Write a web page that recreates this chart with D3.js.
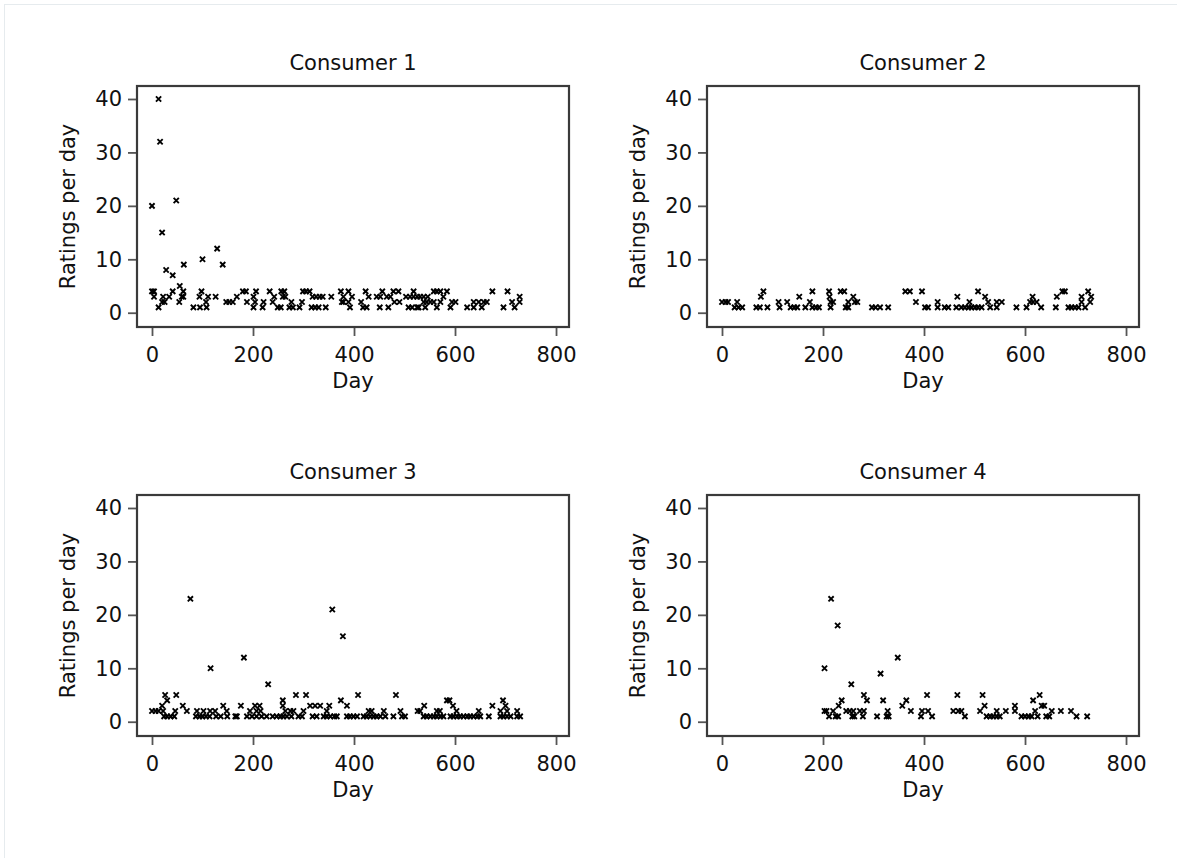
<!DOCTYPE html>
<html>
<head>
<meta charset="utf-8">
<script src="https://cdn.jsdelivr.net/npm/d3@7"></script>
<style>
  body { margin: 0; background: #fff; }
  text { font-family: "DejaVu Sans", sans-serif; fill: #111; }
</style>
</head>
<body>
<svg width="1177" height="858"></svg>
<script>
// [day, ratings on that day]
var consumer1 = [
  [0,20],[13,40],[16,32],[20,15],[28,8],[41,7],[48,21],[55,5],[63,9],[100,10],[129,12],[140,9],
  [0,4],[4,4],[41,4],[62,4],[98,4],[180,4],[186,4],[206,4],[233,4],[256,4],[262,4],[299,4],[305,4],[312,4],
  [374,4],[389,4],[423,4],[456,4],[478,4],[488,4],[518,4],[558,4],[564,4],[571,4],[584,4],[674,4],[704,4],
  [4,3],[22,3],[34,3],[59,3],[62,3],[94,3],[111,3],[126,3],[168,3],[201,3],[242,3],[259,3],[264,3],[318,3],
  [325,3],[332,3],[338,3],[355,3],[379,3],[396,3],[429,3],[445,3],[452,3],[465,3],[472,3],[503,3],[511,3],
  [518,3],[525,3],[531,3],[538,3],[546,3],[577,3],[728,3],
  [20,2],[25,2],[54,2],[107,2],[147,2],[153,2],[160,2],[188,2],[204,2],[221,2],[239,2],[276,2],[297,2],
  [376,2],[379,2],[389,2],[414,2],[480,2],[490,2],[538,2],[544,2],[551,2],[558,2],[571,2],[594,2],[601,2],
  [637,2],[647,2],[657,2],[663,2],[713,2],[728,2],
  [13,1],[82,1],[95,1],[108,1],[201,1],[219,1],[249,1],[255,1],[272,1],[279,1],[292,1],[316,1],[323,1],
  [330,1],[344,1],[392,1],[418,1],[425,1],[451,1],[468,1],[508,1],[515,1],[525,1],[528,1],[541,1],[564,1],
  [591,1],[624,1],[637,1],[653,1],[696,1],[718,1]
];

var consumer2 = [
  [82,4],[179,4],[212,4],[235,4],[242,4],[363,4],[372,4],[396,4],[507,4],[674,4],[679,4],[725,4],
  [77,3],[153,3],[213,3],[260,3],[466,3],[521,3],[615,3],[663,3],[712,3],[731,3],
  [0,2],[7,2],[12,2],[30,2],[112,2],[129,2],[174,2],[215,2],[220,2],[250,2],[263,2],[268,2],[384,2],
  [427,2],[490,2],[527,2],[544,2],[554,2],[610,2],[616,2],[623,2],[712,2],[729,2],
  [25,1],[33,1],[40,1],[68,1],[75,1],[90,1],[114,1],[136,1],[143,1],[149,1],[165,1],[179,1],[186,1],
  [192,1],[215,1],[245,1],[250,1],[297,1],[304,1],[313,1],[329,1],[402,1],[408,1],[427,1],[441,1],[448,1],
  [464,1],[474,1],[481,1],[488,1],[494,1],[501,1],[507,1],[514,1],[531,1],[544,1],[583,1],[603,1],[632,1],
  [661,1],[686,1],[692,1],[699,1],[706,1],[719,1]
];

var consumer3 = [
  [76,23],[116,10],[182,12],[230,7],[357,21],[378,16],
  [26,5],[48,5],[285,5],[305,5],[408,5],[483,5],
  [30,4],[259,4],[374,4],[584,4],[589,4],[695,4],
  [20,3],[61,3],[141,3],[176,3],[204,3],[213,3],[259,3],[313,3],[323,3],[333,3],[351,3],[386,3],[539,3],
  [596,3],[674,3],[700,3],
  [0,2],[7,2],[13,2],[22,2],[46,2],[69,2],[89,2],[102,2],[115,2],[125,2],[148,2],[194,2],[207,2],[215,2],
  [264,2],[274,2],[280,2],[300,2],[346,2],[429,2],[435,2],[459,2],[492,2],[526,2],[531,2],[564,2],[570,2],
  [603,2],[647,2],[690,2],[703,2],[723,2],
  [24,1],[30,1],[37,1],[44,1],[87,1],[94,1],[100,1],[107,1],[114,1],[127,1],[136,1],[149,1],[165,1],
  [168,1],[188,1],[198,1],[207,1],[217,1],[227,1],[239,1],[247,1],[254,1],[260,1],[267,1],[276,1],[290,1],
  [297,1],[318,1],[326,1],[340,1],[346,1],[353,1],[361,1],[366,1],[386,1],[392,1],[399,1],[406,1],[419,1],
  [425,1],[432,1],[439,1],[445,1],[452,1],[462,1],[478,1],[495,1],[501,1],[538,1],[544,1],[551,1],[558,1],
  [564,1],[571,1],[577,1],[591,1],[597,1],[604,1],[610,1],[617,1],[624,1],[630,1],[637,1],[644,1],[650,1],
  [667,1],[690,1],[696,1],[703,1],[710,1],[723,1],[729,1]
];

var consumer4 = [
  [203,10],[216,23],[229,18],[256,7],[314,9],[348,12],
  [281,5],[406,5],[466,5],[516,5],[629,5],
  [237,4],[287,4],[319,4],[365,4],[616,4],
  [231,3],[357,3],[520,3],[580,3],[633,3],[638,3],
  [203,2],[207,2],[220,2],[246,2],[253,2],[260,2],[273,2],[281,2],[328,2],[374,2],[396,2],[408,2],
  [458,2],[468,2],[474,2],[511,2],[544,2],[562,2],[580,2],[620,2],[653,2],[671,2],[691,2],
  [212,1],[225,1],[230,1],[258,1],[262,1],[279,1],[307,1],[326,1],[330,1],[394,1],[416,1],[481,1],
  [524,1],[531,1],[537,1],[544,1],[550,1],[593,1],[600,1],[607,1],[613,1],[625,1],[642,1],[648,1],
  [702,1],[723,1]
];

var titles = ["Consumer 1", "Consumer 2", "Consumer 3", "Consumer 4"];
var series = [consumer1, consumer2, consumer3, consumer4];
var xTicks = [0, 200, 400, 600, 800];
var yTicks = [0, 10, 20, 30, 40];

var svg = d3.select("svg");

// faint outer border of the screenshot
svg.append("rect")
    .attr("x", 4.5).attr("y", 4.5)
    .attr("width", 1190).attr("height", 870)
    .attr("fill", "none")
    .attr("stroke", "#e6ebee");

var pw = 432, ph = 241;
var origins = [[137, 86], [707, 86], [137, 495], [707, 495]];

var x = d3.scaleLinear().domain([-29.7, 825.7]).range([0, pw]);
var y = d3.scaleLinear().domain([-2.67, 42.43]).range([ph, 0]);

var cross = "M-2.6,-2.6L2.6,2.6M-2.6,2.6L2.6,-2.6";

series.forEach(function (data, i) {
    var g = svg.append("g")
        .attr("transform", "translate(" + origins[i][0] + "," + origins[i][1] + ")");

    var xAxis = g.append("g")
        .attr("transform", "translate(0," + (ph + 1) + ")")
        .call(d3.axisBottom(x).tickValues(xTicks).tickSize(8).tickPadding(11));
    var yAxis = g.append("g")
        .attr("transform", "translate(-1,0)")
        .call(d3.axisLeft(y).tickValues(yTicks).tickSize(8).tickPadding(6));

    [xAxis, yAxis].forEach(function (a) {
        a.select(".domain").remove();
        a.selectAll("line").attr("stroke", "#555").attr("stroke-width", 1.8);
        a.selectAll("text")
            .style("font-family", "'DejaVu Sans', sans-serif")
            .style("font-size", "21px")
            .attr("fill", "#111");
    });

    // plot frame
    g.append("rect")
        .attr("width", pw).attr("height", ph)
        .attr("fill", "none")
        .attr("stroke", "#3a3a3a")
        .attr("stroke-width", 2.2);

    g.append("text")
        .attr("x", pw / 2).attr("y", -16)
        .attr("text-anchor", "middle")
        .style("font-size", "21px")
        .text(titles[i]);

    g.append("text")
        .attr("x", pw / 2).attr("y", ph + 61)
        .attr("text-anchor", "middle")
        .style("font-size", "21px")
        .text("Day");

    g.append("text")
        .attr("transform", "translate(-62," + (ph / 2) + ") rotate(-90)")
        .attr("text-anchor", "middle")
        .style("font-size", "21px")
        .text("Ratings per day");

    g.append("g")
        .selectAll("path")
        .data(data)
        .enter().append("path")
        .attr("d", cross)
        .attr("transform", function (d) {
            return "translate(" + x(d[0]) + "," + y(d[1]) + ")";
        })
        .attr("fill", "none")
        .attr("stroke", "#000")
        .attr("stroke-width", 1.9);
});
</script>
</body>
</html>
